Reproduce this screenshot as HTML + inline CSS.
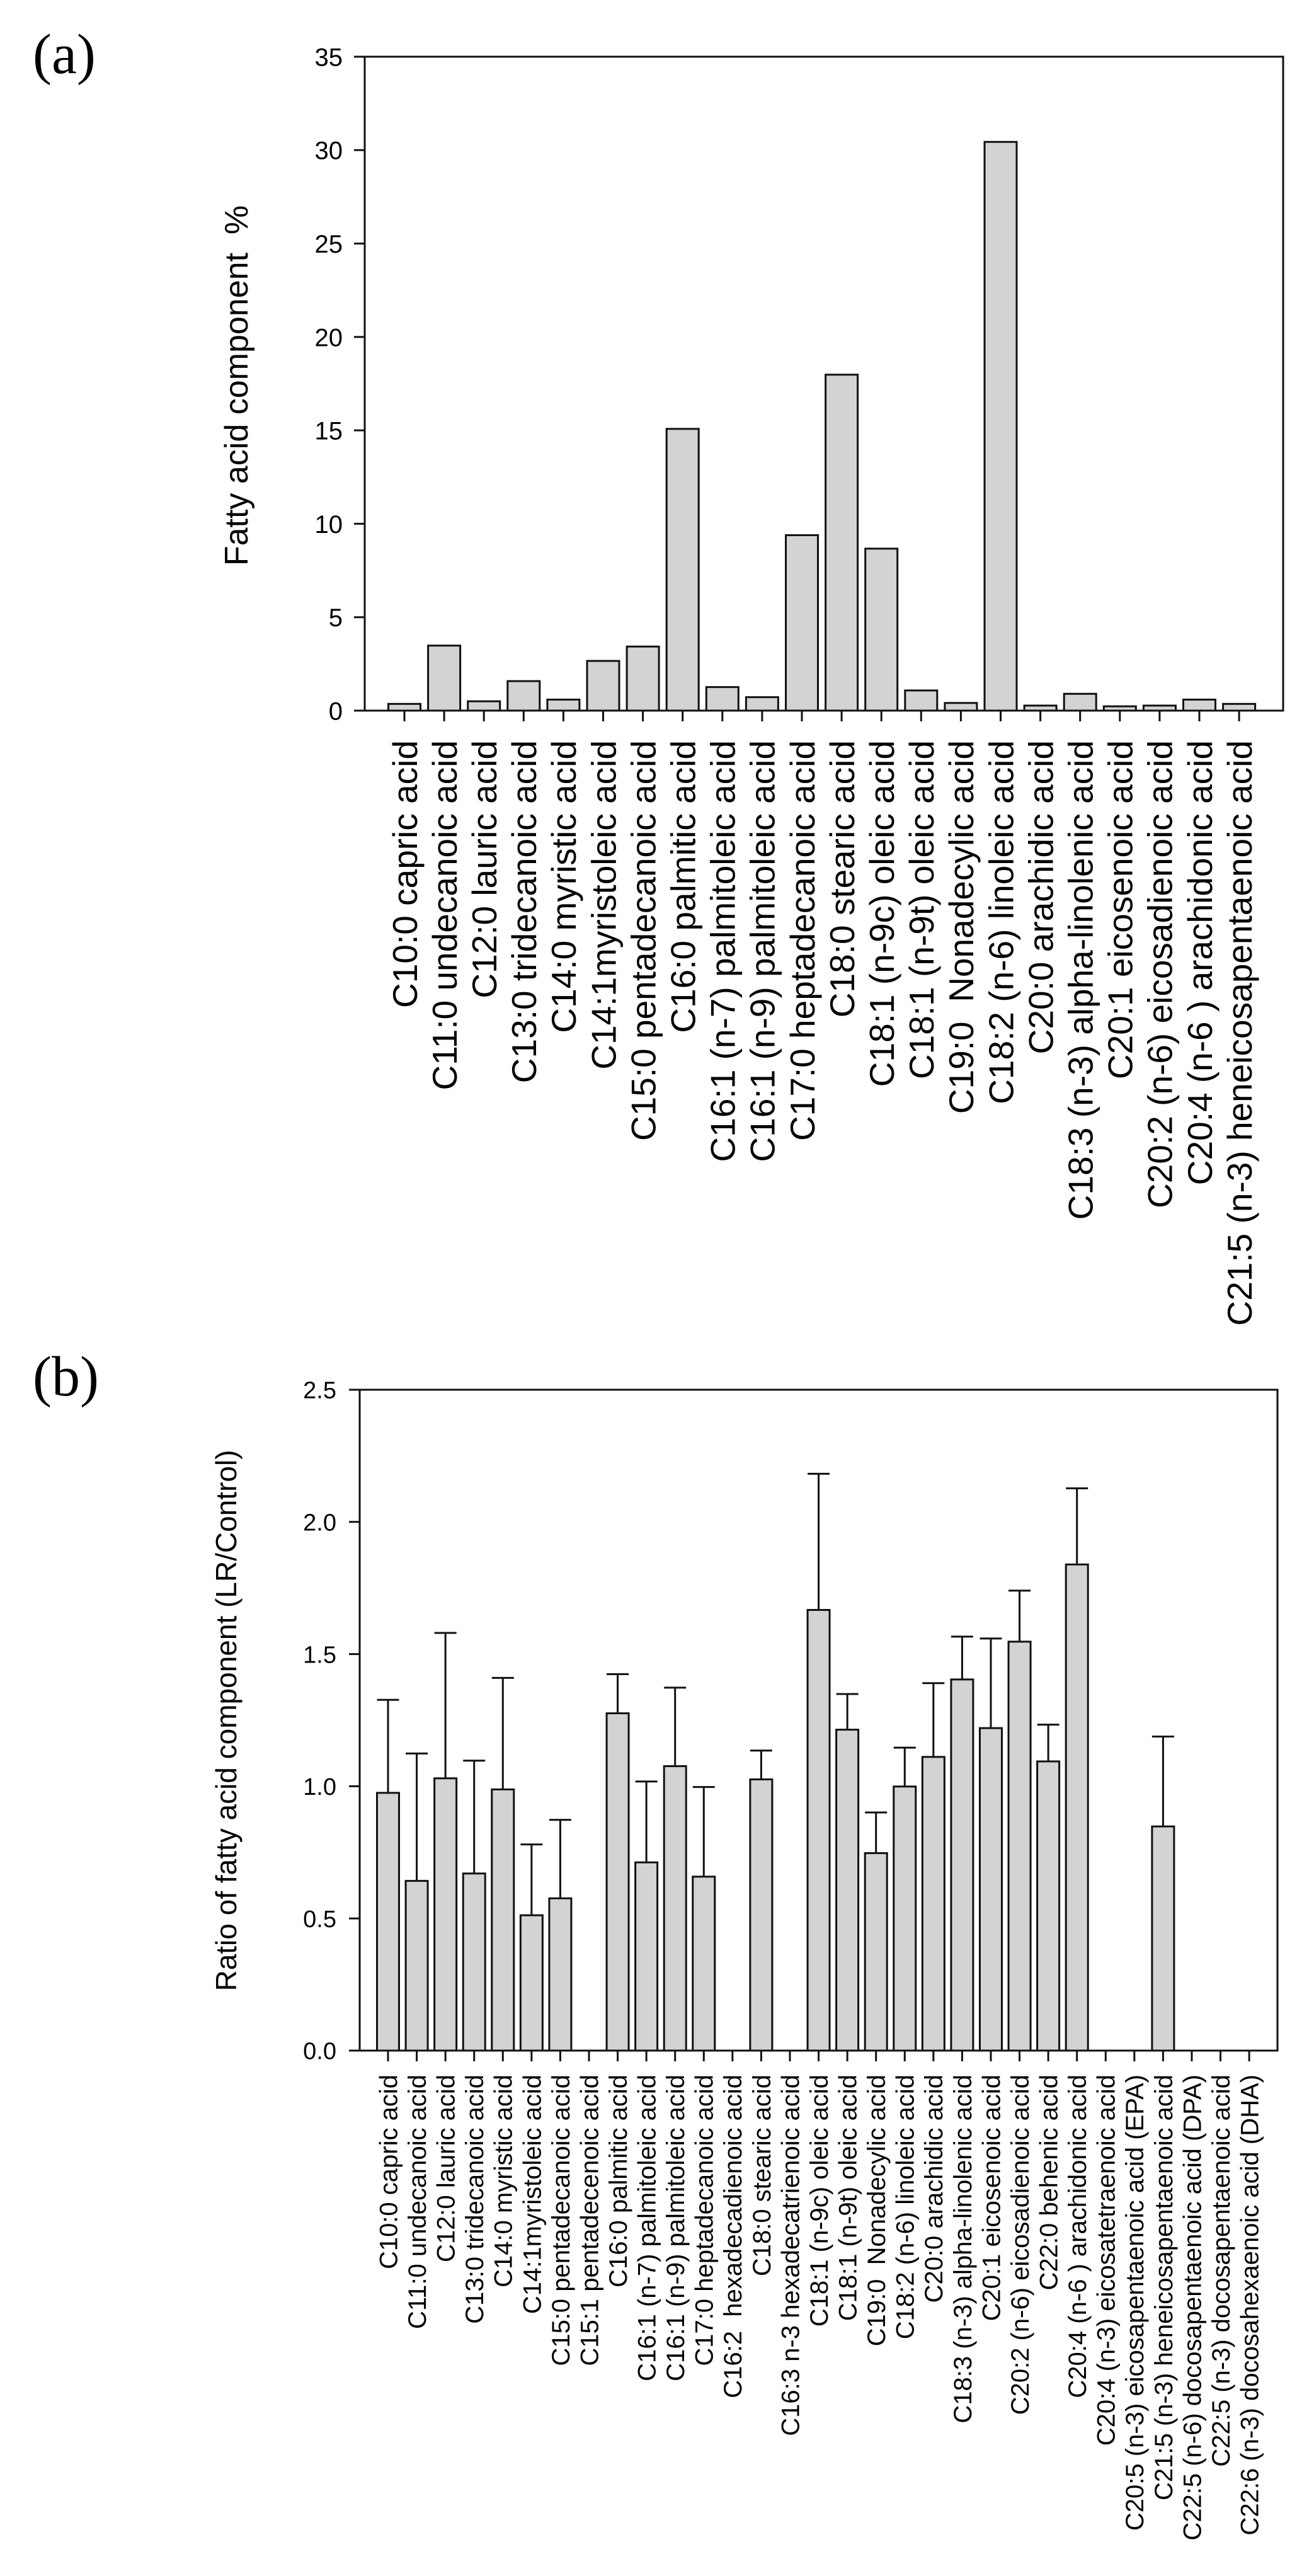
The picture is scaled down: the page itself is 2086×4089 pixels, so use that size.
<!DOCTYPE html>
<html><head><meta charset="utf-8"><title>Fatty acid charts</title>
<style>
html,body{margin:0;padding:0;background:#fff;}
svg{display:block;}
text{font-family:"Liberation Sans",Arial,sans-serif;fill:#000;white-space:pre;}
.serif{font-family:"Liberation Serif","Times New Roman",serif;}
</style></head>
<body>
<svg id="fig" width="2086" height="4089" viewBox="0 0 2086 4089" xmlns="http://www.w3.org/2000/svg" xml:space="preserve">
<rect x="0" y="0" width="2086" height="4089" fill="#fff"/>
<text class="serif" x="52" y="116" font-size="90">(a)</text>
<text class="serif" x="52" y="2215" font-size="90">(b)</text>
<g id="chartA"></g>
<g id="chartB"></g>
</svg>
<script>
// ---- Chart (a) data ----
const catsA = ["C10:0 capric acid","C11:0 undecanoic acid","C12:0 lauric acid","C13:0 tridecanoic acid","C14:0 myristic acid","C14:1myristoleic acid","C15:0 pentadecanoic acid","C16:0 palmitic acid","C16:1 (n-7) palmitoleic acid","C16:1 (n-9) palmitoleic acid","C17:0 heptadecanoic acid","C18:0 stearic acid","C18:1 (n-9c) oleic acid","C18:1 (n-9t) oleic acid","C19:0  Nonadecylic acid","C18:2 (n-6) linoleic acid","C20:0 arachidic acid","C18:3 (n-3) alpha-linolenic acid","C20:1 eicosenoic acid","C20:2 (n-6) eicosadienoic acid","C20:4 (n-6 ) arachidonic acid","C21:5 (n-3) heneicosapentaenoic acid"];
const valuesA = [0.36,3.48,0.5,1.58,0.59,2.66,3.43,15.08,1.26,0.72,9.39,17.98,8.67,1.08,0.41,30.44,0.27,0.9,0.23,0.27,0.59,0.36];
const ticksA = [0,5,10,15,20,25,30,35];

// ---- Chart (b) data ----
const catsB = ["C10:0 capric acid","C11:0 undecanoic acid","C12:0 lauric acid","C13:0 tridecanoic acid","C14:0 myristic acid","C14:1myristoleic acid","C15:0 pentadecanoic acid","C15:1 pentadecenoic acid","C16:0 palmitic acid","C16:1 (n-7) palmitoleic acid","C16:1 (n-9) palmitoleic acid","C17:0 heptadecanoic acid","C16:2  hexadecadienoic acid","C18:0 stearic acid","C16:3 n-3 hexadecatrienoic acid","C18:1 (n-9c) oleic acid","C18:1 (n-9t) oleic acid","C19:0  Nonadecylic acid","C18:2 (n-6) linoleic acid","C20:0 arachidic acid","C18:3 (n-3) alpha-linolenic acid","C20:1 eicosenoic acid","C20:2 (n-6) eicosadienoic acid","C22:0 behenic acid","C20:4 (n-6 ) arachidonic acid","C20:4 (n-3) eicosatetraenoic acid","C20:5 (n-3) eicosapentaenoic acid (EPA)","C21:5 (n-3) heneicosapentaenoic acid","C22:5 (n-6) docosapentaenoic acid (DPA)","C22:5 (n-3) docosapentaenoic acid","C22:6 (n-3) docosahexaenoic acid (DHA)"];
const valuesB = [0.975,0.642,1.03,0.67,0.988,0.512,0.576,0,1.276,0.712,1.076,0.658,0,1.026,0,1.667,1.214,0.747,0.999,1.111,1.404,1.220,1.547,1.094,1.839,0,0,0.848,0,0,0];
const errTopB = [1.327,1.124,1.58,1.097,1.41,0.78,0.873,0,1.424,1.018,1.373,0.997,0,1.135,0,2.182,1.349,0.901,1.146,1.39,1.566,1.559,1.74,1.233,2.127,0,0,1.188,0,0,0];
const ticksB = ["0.0","0.5","1.0","1.5","2.0","2.5"];

const NS = "http://www.w3.org/2000/svg";
function mk(parent, tag, attrs, txt){
  const e = document.createElementNS(NS, tag);
  for (const k in attrs) e.setAttribute(k, attrs[k]);
  if (txt !== undefined) e.textContent = txt;
  parent.appendChild(e);
  return e;
}

function drawChart(g, cfg){
  const {left,right,top,bottom,ymax,firstX,step,barW,cats,vals,errs,ticks,tickVals,tickFont,tickRight,labFont,labY,title,titleX,titleY,titleFont,key} = cfg;
  const ys = v => bottom - (v/ymax)*(bottom-top);
  const xs = i => firstX + i*step;
  cats.forEach((c,i)=>{
    const v = vals[i];
    if (v > 0){
      const r = mk(g,'rect',{x:xs(i)-barW/2,y:ys(v),width:barW,height:bottom-ys(v),fill:'#d3d3d3',stroke:'#111','stroke-width':3});
      
      
    }
    if (errs && errs[i] > 0){
      const eg = mk(g,'g',{stroke:'#111','stroke-width':3});
      
      
      mk(eg,'line',{x1:xs(i),x2:xs(i),y1:ys(v),y2:ys(errs[i])});
      mk(eg,'line',{x1:xs(i)-barW/2,x2:xs(i)+barW/2,y1:ys(errs[i]),y2:ys(errs[i])});
    }
    const t = mk(g,'line',{x1:xs(i),x2:xs(i),y1:bottom,y2:bottom+17,stroke:'#111','stroke-width':3});
    
    
    const bx = xs(i) + labFont*0.36;
    const lt = mk(g,'text',{x:bx,y:labY,'font-size':labFont,'text-anchor':'end',transform:`rotate(-90 ${bx} ${labY})`}, c);
    
    
  });
  const fr = mk(g,'rect',{x:left,y:top,width:right-left,height:bottom-top,fill:'none',stroke:'#111','stroke-width':3});
  
  
  ticks.forEach((lab,j)=>{
    const y = ys(tickVals[j]);
    const tl = mk(g,'line',{x1:left-17,x2:left,y1:y,y2:y,stroke:'#111','stroke-width':3});
    
    
    const tx = mk(g,'text',{x:tickRight,y:y+tickFont*0.36,'font-size':tickFont,'text-anchor':'end'}, lab);
    
    
  });
  const tt = mk(g,'text',{x:titleX,y:titleY,'font-size':titleFont,'text-anchor':'middle',transform:`rotate(-90 ${titleX} ${titleY})`}, title);
  
  
}

drawChart(document.getElementById('chartA'), {
  left:579,right:2037,top:90,bottom:1128,ymax:35,firstX:642,step:63.1,barW:51,
  cats:catsA,vals:valuesA,errs:null,ticks:ticksA.map(String),tickVals:ticksA,
  tickFont:40,tickRight:544,labFont:55,labY:1175,
  title:"Fatty acid component  %",titleX:393,titleY:612,titleFont:52,key:'a'
});
drawChart(document.getElementById('chartB'), {
  left:571,right:2028,top:2206,bottom:3255,ymax:2.5,firstX:616,step:45.57,barW:35,
  cats:catsB,vals:valuesB,errs:errTopB,ticks:ticksB,tickVals:ticksB.map(Number),
  tickFont:38,tickRight:534,labFont:40,labY:3293,
  title:"Ratio of fatty acid component (LR/Control)",titleX:375,titleY:2731,titleFont:46,key:'b'
});
</script>
</body></html>
